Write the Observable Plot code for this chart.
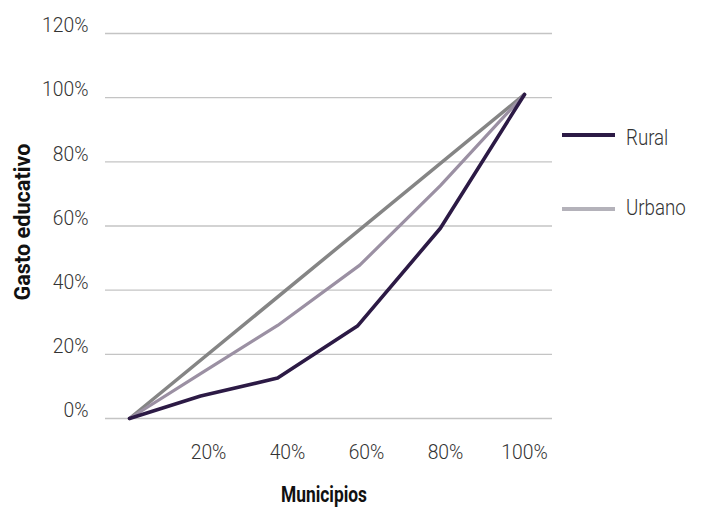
<!DOCTYPE html>
<html>
<head>
<meta charset="utf-8">
<script src="https://cdn.jsdelivr.net/npm/d3@7"></script>
<script src="https://cdn.jsdelivr.net/npm/@observablehq/plot@0.6"></script>
<style>
  html, body { margin: 0; padding: 0; background: #fff; }
  #wrap { position: relative; width: 704px; height: 509px; }
  .sw { position: absolute; left: 562px; width: 53px; height: 4px; }
  .lt { position: absolute; left: 626px; font-family: Roboto, sans-serif; font-weight: 300;
        font-size: 22px; line-height: 22px; color: #333; white-space: nowrap;
        transform: scaleX(0.85); transform-origin: left center; }
</style>
</head>
<body>
<div id="wrap"></div>
<script>
// Data
const municipiosRural  = [0, 18, 37.5, 57.7, 78.7, 100];
const gastoRural       = [0, 7, 12.6, 28.8, 59.3, 101];
const municipiosUrbano = [0, 18, 37.5, 58.3, 78.7, 100];
const gastoUrbano      = [0, 14, 29, 47.8, 72.6, 101];
const municipiosIgualdad = [0, 100];
const gastoIgualdad      = [0, 101];
const yTicks = [0, 20, 40, 60, 80, 100, 120];
const xTicks = [20, 40, 60, 80, 100];
const seriesNames = ["Rural", "Urbano"];
const xTitle = "Municipios";
const yTitle = "Gasto educativo";

const toRows = (xs, ys, s) => xs.map((x, i) => ({x, y: ys[i], s}));
const rural = toRows(municipiosRural, gastoRural, "Rural");
const urbano = toRows(municipiosUrbano, gastoUrbano, "Urbano");
const igualdad = toRows(municipiosIgualdad, gastoIgualdad, "Igualdad");

const pct = d => d + "%";

const chart = Plot.plot({
  width: 704,
  height: 509,
  marginLeft: 105,
  marginRight: 152,
  marginTop: 33,
  marginBottom: 91,
  style: {fontFamily: "Roboto, sans-serif", fontSize: "21px", fontWeight: 300, color: "#333", background: "#fff"},
  x: {domain: [-6.08, 107.09], ticks: xTicks, tickFormat: pct, label: null},
  y: {domain: [0, 120], ticks: yTicks, tickFormat: pct, label: null},
  marks: [
    Plot.gridY(yTicks, {stroke: "#c4c4c4", strokeOpacity: 1, strokeWidth: 1.3}),
    Plot.axisX(xTicks, {tickSize: 0, tickPadding: 26, tickFormat: pct, label: null, fontSize: 21}),
    Plot.axisY(yTicks, {tickSize: 0, tickPadding: 17, tickFormat: pct, label: null, dy: -8, fontSize: 21}),
    Plot.line(igualdad, {x: "x", y: "y", stroke: "#858585", strokeWidth: 3.5}),
    Plot.line(urbano, {x: "x", y: "y", stroke: "#9b90a3", strokeWidth: 3.2}),
    Plot.line(rural, {x: "x", y: "y", stroke: "#2c1a45", strokeWidth: 3.6}),
    Plot.text([xTitle], {frameAnchor: "bottom", lineAnchor: "top", dx: -5, dy: 68, fontWeight: "bold", fontSize: 22, fill: "#111"}),
    Plot.text([yTitle], {frameAnchor: "left", textAnchor: "middle", rotate: -90, dx: -83, dy: -4, fontWeight: "bold", fontSize: 22, fill: "#111"})
  ]
});
const wrap = document.getElementById("wrap");
wrap.appendChild(chart);

// condensed look for the titles and tick labels
const titleLen = {[xTitle]: 86, [yTitle]: 157};
chart.querySelectorAll("text").forEach(t => {
  const len = titleLen[t.textContent];
  if (len) {
    t.setAttribute("textLength", len);
    t.setAttribute("lengthAdjust", "spacingAndGlyphs");
  } else if (/%$/.test(t.textContent)) {
    const w = t.getComputedTextLength();
    t.setAttribute("textLength", (w * 0.92).toFixed(1));
    t.setAttribute("lengthAdjust", "spacingAndGlyphs");
  }
});

const legColors = {Rural: "#2c1a45", Urbano: "#b4b2ba"};
const legY = {Rural: 135, Urbano: 209};
const legTextTop = {Rural: 127, Urbano: 197};
for (const name of seriesNames) {
  const sw = document.createElement("div");
  sw.className = "sw";
  sw.style.top = (legY[name] - 2) + "px";
  sw.style.background = legColors[name];
  wrap.appendChild(sw);
  const t = document.createElement("div");
  t.className = "lt";
  t.style.top = legTextTop[name] + "px";
  t.textContent = name;
  wrap.appendChild(t);
}
</script>
</body>
</html>
